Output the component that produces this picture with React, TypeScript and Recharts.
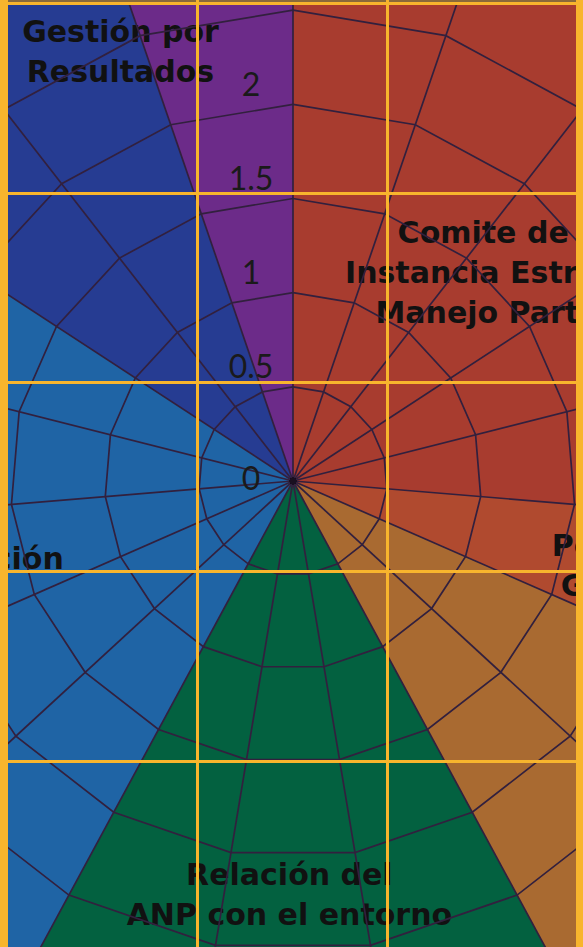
import React from 'react'
import {
    PieChart,
    Pie,
    Cell,
    RadarChart,
    Radar,
    PolarGrid,
    PolarAngleAxis,
    PolarRadiusAxis
} from "recharts";

// 19 indicadores del radar (eje angular)
const indicators = [
    "I1", "I2", "I3", "I4", "I5", "I6", "I7", "I8", "I9", "I10",
    "I11", "I12", "I13", "I14", "I15", "I16", "I17", "I18", "I19"
];
const scores = [0, 0, 0, 0, 0, 0, 0, 0, 0, 0, 0, 0, 0, 0, 0, 0, 0, 0, 0];
const radiusTicks = [0, 0.5, 1, 1.5, 2, 2.5];

// grupos de indicadores (sectores del fondo)
const groupNames = [
    "Comite de Manejo\nInstancia Estratégica de\nManejo Participativo",
    "Personal\nGestión",
    "Infraestructura",
    "Relación del\nANP con el entorno",
    "Administración",
    "Planeación",
    "Gestión por\nResultados"
];
const groupCounts = [5, 1, 2, 3, 5, 2, 1];

const groupColors = ["#a83c2f", "#b04a2f", "#a96a31", "#036140", "#1f64a5", "#263c92", "#6c2b89"];
// radio y desplazamiento angular de cada etiqueta (null = fuera de la imagen)
const labelPlace: ({ r: number, da: number } | null)[] = [
    { r: 331, da: 3.5 },
    { r: 343, da: 0 },
    null,
    { r: 414, da: 0.5 },
    { r: 365, da: 2 },
    null,
    { r: 463, da: -12.4 }
];

const radarData = indicators.map((name, i) => ({ indicador: name, puntaje: scores[i] }));
const pieData = groupNames.map((name, i) => ({ name, value: groupCounts[i] }));

const W = 583;
const H = 947;
const CX = 293;
const CY = 481;
const R = 565; // 3 unidades del eje radial

const frameColor = "#f8b52d";
const vLines = [197, 387];
const hLines = [193, 382, 571, 761];

const renderGroupLabel = (props: any) => {
    const { cx, cy, midAngle, index } = props;
    const place = labelPlace[index];
    if (!place) return null;
    const theta = ((90 - midAngle + place.da) * Math.PI) / 180;
    const x = cx + place.r * Math.sin(theta);
    const y = cy - place.r * Math.cos(theta);
    const lines = groupNames[index].split("\n");
    const lh = 40;
    return (
        <text
            x={x}
            y={y}
            textAnchor="middle"
            fontFamily="DejaVu Sans"
            fontWeight="bold"
            fontSize={30}
            fill="#111"
        >
            {lines.map((line, i) => (
                <tspan key={i} x={x} y={y + (i - (lines.length - 1) / 2) * lh} dominantBaseline="central">
                    {line}
                </tspan>
            ))}
        </text>
    );
};

const RadiusTick = (props: any) => {
    const { x, y, payload } = props;
    return (
        <text
            x={x - 42}
            y={y + (payload.value === 0 ? -4 : -21)}
            textAnchor="middle"
            dominantBaseline="central"
            fontFamily="Lato"
            fontSize={32}
            fill="#1a1a1a"
        >
            {payload.value}
        </text>
    );
};

const App = () => {
    return (
        <div style={{ position: "absolute", left: 0, top: 0, width: W, height: H, overflow: "hidden", background: "#a83c2f" }}>
            <div style={{ position: "absolute", left: 0, top: 0 }}>
                <PieChart width={W} height={H} margin={{ top: 0, right: 0, bottom: 0, left: 0 }}>
                    <Pie
                        data={pieData}
                        dataKey="value"
                        nameKey="name"
                        cx={CX}
                        cy={CY}
                        outerRadius={700}
                        startAngle={90}
                        endAngle={-270}
                        stroke="none"
                        label={renderGroupLabel}
                        labelLine={false}
                        isAnimationActive={false}
                    >
                        {pieData.map((d, i) => (
                            <Cell key={d.name} fill={groupColors[i]} />
                        ))}
                    </Pie>
                </PieChart>
            </div>
            <div style={{ position: "absolute", left: 0, top: 0 }}>
                <RadarChart
                    width={W}
                    height={H}
                    cx={CX}
                    cy={CY}
                    outerRadius={R}
                    data={radarData}
                    margin={{ top: 0, right: 0, bottom: 0, left: 0 }}
                >
                    <PolarGrid gridType="polygon" stroke="#32203e" strokeWidth={1.7} />
                    <PolarAngleAxis dataKey="indicador" tick={false} axisLine={false} tickLine={false} />
                    <PolarRadiusAxis
                        angle={90}
                        type="number"
                        domain={[0, 3]}
                        ticks={radiusTicks}
                        axisLine={false}
                        tickLine={false}
                        tick={<RadiusTick />}
                    />
                    <Radar
                        dataKey="puntaje"
                        stroke="#1a1020"
                        fill="none"
                        dot={{ r: 3, fill: "#1a1020", stroke: "#1a1020" }}
                        isAnimationActive={false}
                    />
                </RadarChart>
            </div>
            {/* marco naranja */}
            <div style={{ position: "absolute", left: 0, top: 0, width: W, height: 2, background: "#8a6a3a" }} />
            <div style={{ position: "absolute", left: 0, top: 2, width: W, height: 3, background: frameColor }} />
            <div style={{ position: "absolute", left: 0, top: 0, width: 8, height: H, background: frameColor }} />
            <div style={{ position: "absolute", left: 576, top: 0, width: 7, height: H, background: frameColor }} />
            {vLines.map(x => (
                <div key={"v" + x} style={{ position: "absolute", left: x - 1.5, top: 0, width: 3, height: H, background: frameColor }} />
            ))}
            {hLines.map(y => (
                <div key={"h" + y} style={{ position: "absolute", left: 0, top: y - 1.5, width: W, height: 3, background: frameColor }} />
            ))}
        </div>
    );
};

export default App
